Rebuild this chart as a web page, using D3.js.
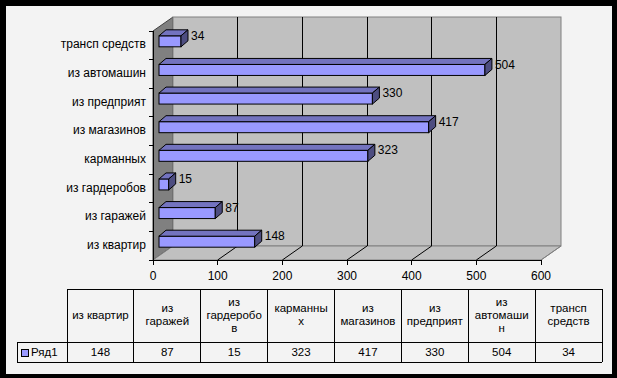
<!DOCTYPE html>
<html>
<head>
<meta charset="utf-8">
<script src="https://cdn.jsdelivr.net/npm/d3@7"></script>
<style>
  body { margin: 0; background: #000; }
  svg { display: block; font-family: "Liberation Sans", Arial, sans-serif; }
</style>
</head>
<body>
<div id="chart"></div>
<script>
const categories = ["из квартир", "из гаражей", "из гардеробов", "карманных", "из магазинов", "из предприят", "из автомашин", "трансп средств"]
const values = [148, 87, 15, 323, 417, 330, 504, 34]
const seriesName = "Ряд1"
const xTicks = [0, 100, 200, 300, 400, 500, 600]
// wrapped header text as in the table under the chart
const headerLines = [["из квартир"], ["из", "гаражей"], ["из", "гардеробо", "в"], ["карманны", "х"],
  ["из", "магазинов"], ["из", "предприят"], ["из", "автомаши", "н"], ["трансп", "средств"]]

const data = categories.map((c, i) => ({ cat: c, value: values[i] }))

const width = 617
const height = 378

const svg = d3.select("#chart")
  .append("svg")
  .attr("width", width)
  .attr("height", height)

svg.append("rect").attr("width", width).attr("height", height).attr("fill", "#000")
svg.append("rect").attr("x", 6).attr("y", 6).attr("width", 606).attr("height", 368).attr("fill", "#f3f3f3")

const x = d3.scaleLinear().domain([0, 600]).range([153, 541])
const y = d3.scaleBand().domain(categories.slice().reverse()).range([31, 260])

// wall depth
const DX = 20, DY = -14
const plotBottom = 260, plotTop = 31

const g = svg.append("g")

// side wall
g.append("polygon")
  .attr("points", [[x(0), plotTop], [x(0) + DX, plotTop + DY], [x(0) + DX, plotBottom + DY], [x(0), plotBottom]].join(" "))
  .attr("fill", "#808080")
  .attr("stroke", "#404040")
  .attr("stroke-width", 1)

// back wall
g.append("rect")
  .attr("x", x(0) + DX).attr("y", plotTop + DY)
  .attr("width", x(600) - x(0)).attr("height", plotBottom - plotTop)
  .attr("fill", "#c0c0c0")
  .attr("stroke", "#808080")

// floor
g.append("polygon")
  .attr("points", [[x(0), plotBottom], [x(0) + DX, plotBottom + DY], [x(600) + DX, plotBottom + DY], [x(600), plotBottom]].join(" "))
  .attr("fill", "#c0c0c0")
  .attr("stroke", "#808080")

// gridlines on back wall and floor
const inner = xTicks.filter(t => t > 0 && t < 600)
g.selectAll(".grid")
  .data(inner)
  .join("line")
  .attr("x1", d => x(d) + DX).attr("x2", d => x(d) + DX)
  .attr("y1", plotTop + DY).attr("y2", plotBottom + DY)
  .attr("stroke", "#000")
  .attr("shape-rendering", "crispEdges")

g.selectAll(".floorgrid")
  .data(inner)
  .join("line")
  .attr("x1", d => x(d)).attr("y1", plotBottom)
  .attr("x2", d => x(d) + DX).attr("y2", plotBottom + DY)
  .attr("stroke", "#000")

g.append("line")
  .attr("x1", x(600)).attr("y1", plotBottom)
  .attr("x2", x(600) + DX).attr("y2", plotBottom + DY)
  .attr("stroke", "#808080")

// axes
g.append("line").attr("x1", x(0)).attr("x2", x(600)).attr("y1", plotBottom).attr("y2", plotBottom)
  .attr("stroke", "#000").attr("shape-rendering", "crispEdges")
g.append("line").attr("x1", x(0)).attr("x2", x(0)).attr("y1", plotTop).attr("y2", plotBottom)
  .attr("stroke", "#000").attr("shape-rendering", "crispEdges")

g.selectAll(".xtick")
  .data(xTicks)
  .join("line")
  .attr("x1", d => x(d)).attr("x2", d => x(d))
  .attr("y1", plotBottom).attr("y2", plotBottom + 5)
  .attr("stroke", "#000")
  .attr("shape-rendering", "crispEdges")

g.selectAll(".xlabel")
  .data(xTicks)
  .join("text")
  .attr("x", d => x(d))
  .attr("y", plotBottom + 17)
  .attr("dominant-baseline", "middle")
  .attr("text-anchor", "middle")
  .style("font-size", "12px")
  .text(d => d)

const bounds = y.domain().map(c => y(c)).concat([plotBottom])
g.selectAll(".ytick")
  .data(bounds)
  .join("line")
  .attr("x1", x(0) - 4).attr("x2", x(0))
  .attr("y1", d => d).attr("y2", d => d)
  .attr("stroke", "#000")
  .attr("shape-rendering", "crispEdges")

g.selectAll(".ylabel")
  .data(categories)
  .join("text")
  .attr("x", x(0) - 7)
  .attr("y", d => y(d) + y.bandwidth() / 2)
  .attr("text-anchor", "end")
  .attr("dominant-baseline", "middle")
  .style("font-size", "12px")
  .text(d => d)

// 3d bars
const bh = 11
const off = { dx: 6, dy: -4 }
const dep = { dx: 7, dy: -6 }

g.selectAll(".bar")
  .data(data)
  .join("g")
  .each(function (d) {
    const x0 = x(0) + off.dx
    const x1 = x(d.value) + off.dx
    const y0 = y(d.cat) + (y.bandwidth() - bh) / 2 + off.dy
    const y1 = y0 + bh
    const b = d3.select(this)
    b.append("rect")
      .attr("x", x0).attr("y", y0).attr("width", x1 - x0).attr("height", bh)
      .attr("fill", "#9999ff").attr("stroke", "#000")
    b.append("polygon")
      .attr("points", [[x0, y0], [x0 + dep.dx, y0 + dep.dy], [x1 + dep.dx, y0 + dep.dy], [x1, y0]].join(" "))
      .attr("fill", "#7373bf").attr("stroke", "#000")
    b.append("polygon")
      .attr("points", [[x1, y0], [x1 + dep.dx, y0 + dep.dy], [x1 + dep.dx, y1 + dep.dy], [x1, y1]].join(" "))
      .attr("fill", "#4d4d80").attr("stroke", "#000")
    b.append("text")
      .attr("x", x1 + dep.dx + 3)
      .attr("y", y0 + 1)
      .attr("dominant-baseline", "middle")
      .style("font-size", "12px")
      .text(d.value)
  })

// data table
const col = d3.scaleBand().domain(categories).range([67, 602])
const tTop = 289, tMid = 342, tBot = 362
const t = svg.append("g")
  .attr("stroke", "#000")
  .attr("shape-rendering", "crispEdges")

t.append("line").attr("x1", 67).attr("x2", 602).attr("y1", tTop).attr("y2", tTop)
t.append("line").attr("x1", 17).attr("x2", 602).attr("y1", tMid).attr("y2", tMid)
t.append("line").attr("x1", 17).attr("x2", 602).attr("y1", tBot).attr("y2", tBot)
t.append("line").attr("x1", 17).attr("x2", 17).attr("y1", tMid).attr("y2", tBot)
t.selectAll(".vl")
  .data(categories.map(c => col(c)).concat([602]))
  .join("line")
  .attr("x1", d => d).attr("x2", d => d)
  .attr("y1", tTop).attr("y2", tBot)

const hdr = svg.append("g").style("font-size", "11.5px").attr("text-anchor", "middle")
categories.forEach((c, i) => {
  const lines = headerLines[i]
  const cy = (tTop + tMid) / 2
  lines.forEach((ln, j) => {
    hdr.append("text")
      .attr("x", col(c) + col.bandwidth() / 2)
      .attr("y", cy + (j - (lines.length - 1) / 2) * 13)
      .attr("dominant-baseline", "middle")
      .text(ln)
  })
})

svg.append("g").selectAll("text")
  .data(data)
  .join("text")
  .attr("x", d => col(d.cat) + col.bandwidth() / 2)
  .attr("y", (tMid + tBot) / 2 + 1)
  .attr("text-anchor", "middle")
  .attr("dominant-baseline", "middle")
  .style("font-size", "11.5px")
  .text(d => d.value)

// legend key
svg.append("rect")
  .attr("x", 21.5).attr("y", 349.5).attr("width", 7).attr("height", 7)
  .attr("fill", "#9999ff").attr("stroke", "#000")
svg.append("text")
  .attr("x", 31).attr("y", (tMid + tBot) / 2 + 1)
  .attr("dominant-baseline", "middle")
  .style("font-size", "11.5px")
  .text(seriesName)
</script>
</body>
</html>
